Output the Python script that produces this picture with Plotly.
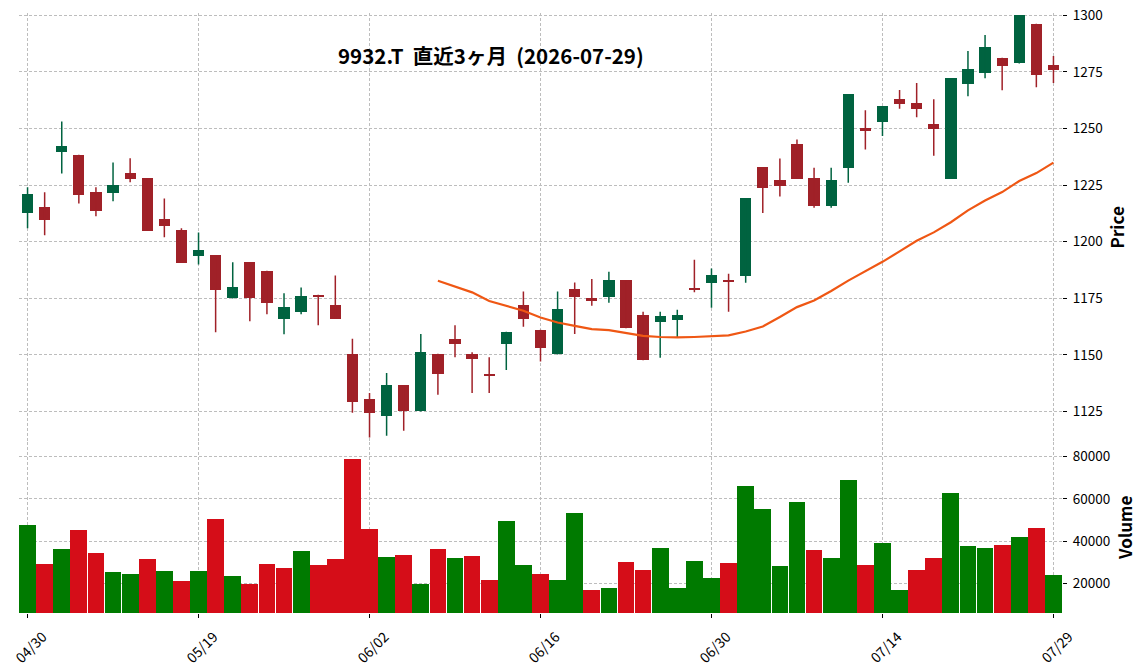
import plotly.graph_objects as go

# ---------------- data ----------------
dates = ["04/30", "05/01", "05/07", "05/08", "05/11", "05/12", "05/13", "05/14", "05/15", "05/18",
         "05/19", "05/20", "05/21", "05/22", "05/25", "05/26", "05/27", "05/28", "05/29", "06/01",
         "06/02", "06/03", "06/04", "06/05", "06/08", "06/09", "06/10", "06/11", "06/12", "06/15",
         "06/16", "06/17", "06/18", "06/19", "06/22", "06/23", "06/24", "06/25", "06/26", "06/29",
         "06/30", "07/01", "07/02", "07/03", "07/06", "07/07", "07/08", "07/09", "07/10", "07/13",
         "07/14", "07/15", "07/16", "07/17", "07/21", "07/22", "07/23", "07/24", "07/27", "07/28",
         "07/29"]

opens = [1212.8, 1215.3, 1239.7, 1238.2, 1221.9, 1221.6, 1230.3, 1228.1, 1210.0, 1205.1,
         1193.8, 1194.1, 1174.9, 1191.0, 1187.1, 1166.0, 1169.1, 1176.3, 1172.0, 1150.5,
         1130.3, 1123.0, 1136.6, 1125.0, 1150.5, 1157.1, 1150.5, 1141.3, 1155.0, 1172.0,
         1161.1, 1150.2, 1178.9, 1174.9, 1175.5, 1182.9, 1167.8, 1164.5, 1165.6, 1179.6,
         1181.7, 1183.0, 1184.8, 1232.9, 1227.1, 1243.1, 1228.0, 1215.8, 1232.6, 1250.1,
         1253.0, 1263.0, 1261.2, 1251.9, 1227.7, 1269.8, 1274.7, 1281.2, 1278.7, 1296.3,
         1278.1]
highs = [1224.0, 1221.8, 1253.1, 1238.4, 1224.0, 1235.0, 1236.8, 1228.1, 1219.1, 1205.9,
         1204.1, 1194.1, 1190.9, 1191.0, 1187.1, 1177.2, 1179.8, 1176.5, 1185.1, 1157.1,
         1133.2, 1142.0, 1136.6, 1159.2, 1150.5, 1163.1, 1151.2, 1149.0, 1160.2, 1178.0,
         1161.1, 1178.0, 1182.0, 1183.5, 1186.7, 1182.9, 1169.0, 1169.0, 1169.9, 1192.0,
         1188.1, 1185.8, 1219.2, 1232.9, 1236.7, 1245.1, 1232.7, 1232.7, 1265.2, 1258.1,
         1259.9, 1267.0, 1270.1, 1262.9, 1272.3, 1284.2, 1291.3, 1281.2, 1300.0, 1296.3,
         1282.0]
lows = [1205.9, 1202.8, 1230.1, 1216.9, 1211.2, 1217.8, 1226.2, 1204.9, 1201.9, 1190.7,
        1189.9, 1160.0, 1174.9, 1164.9, 1167.9, 1159.1, 1167.9, 1163.1, 1166.0, 1124.4,
        1113.5, 1114.3, 1116.5, 1125.0, 1132.4, 1149.0, 1133.2, 1133.2, 1143.3, 1162.4,
        1147.1, 1150.2, 1159.2, 1171.7, 1173.0, 1161.8, 1147.6, 1148.7, 1157.8, 1177.7,
        1170.8, 1169.0, 1181.9, 1212.7, 1219.9, 1227.7, 1215.0, 1215.0, 1226.0, 1240.7,
        1246.7, 1258.7, 1254.9, 1237.9, 1227.7, 1264.2, 1272.2, 1266.9, 1278.7, 1268.2,
        1270.1]
closes = [1221.0, 1209.7, 1242.2, 1220.7, 1213.7, 1224.9, 1227.8, 1204.9, 1207.1, 1190.7,
          1196.3, 1178.8, 1180.0, 1174.9, 1173.1, 1171.2, 1176.0, 1175.7, 1166.0, 1129.1,
          1124.3, 1136.6, 1125.0, 1151.4, 1141.7, 1155.0, 1148.0, 1140.7, 1160.2, 1166.0,
          1152.9, 1170.3, 1175.6, 1173.7, 1182.9, 1161.8, 1147.6, 1167.0, 1167.8, 1178.5,
          1185.1, 1182.4, 1219.2, 1223.7, 1224.6, 1227.7, 1215.8, 1227.1, 1265.2, 1249.0,
          1259.9, 1260.9, 1258.7, 1249.9, 1272.3, 1276.3, 1286.1, 1277.8, 1300.0, 1273.8,
          1275.9]
volumes = [47700, 29400, 36500, 45400, 34600, 25700, 24700, 31800, 26100, 21400,
           26100, 50600, 23800, 20000, 29400, 27500, 35500, 28900, 31800, 78800,
           45900, 32700, 33600, 20000, 36500, 32200, 33200, 21900, 49600, 28900,
           24700, 21900, 53400, 17200, 18100, 30400, 26600, 36900, 18100, 30800,
           22800, 29900, 66100, 55300, 28500, 58500, 36000, 32200, 68900, 28900,
           39300, 17200, 26600, 32200, 62800, 37900, 36900, 38300, 42100, 46300,
           24200]
ma_start = 24
ma25 = [1182.7, 1180.1, 1177.6, 1173.8, 1171.6, 1169.5, 1166.5, 1164.3, 1162.8, 1161.4,
        1160.9, 1159.7, 1158.4, 1157.9, 1157.7, 1157.9, 1158.4, 1158.6, 1160.3, 1162.5,
        1166.7, 1171.1, 1174.0, 1178.2, 1182.8, 1186.8, 1191.1, 1195.7, 1200.4, 1204.1,
        1208.6, 1213.8, 1218.2, 1221.9, 1226.8, 1230.3, 1234.9]
tick_idx = [0, 10, 20, 30, 40, 50, 60]
price_ticks = [1125, 1150, 1175, 1200, 1225, 1250, 1275, 1300]
volume_ticks = [20000, 40000, 60000, 80000]
title_text = "9932.T \u00a0直近3ヶ月 \u00a0(2026-07-29)"

# ---------------- styles ----------------
FONT = "Noto Sans CJK JP"
UP, DOWN = "#006340", "#a02128"
VUP, VDOWN = "#007a00", "#d50d18"
MA_COLOR = "#ef5714"
GRID = "#bdbdbd"

x = list(range(len(dates)))
up = [c >= o for o, c in zip(opens, closes)]
vol_up = [True] + [closes[i] >= closes[i - 1] for i in range(1, len(closes))]

fig = go.Figure()

# volume bars
fig.add_trace(go.Bar(
    x=x, y=volumes, width=0.98,
    marker=dict(color=[VUP if v else VDOWN for v in vol_up], line=dict(width=0)),
    xaxis="x", yaxis="y2", showlegend=False, hoverinfo="skip"))

# wicks
for flag, col in [(True, UP), (False, DOWN)]:
    xs, ys = [], []
    for i in x:
        if up[i] == flag:
            xs += [i, i, None]
            ys += [lows[i], highs[i], None]
    fig.add_trace(go.Scatter(x=xs, y=ys, mode="lines", line=dict(color=col, width=1.5),
                             xaxis="x2", yaxis="y", showlegend=False, hoverinfo="skip"))

# bodies
for flag, col in [(True, UP), (False, DOWN)]:
    idx = [i for i in x if up[i] == flag]
    base = [min(opens[i], closes[i]) for i in idx]
    hgt = [max(abs(closes[i] - opens[i]), 0.6) for i in idx]
    fig.add_trace(go.Bar(x=idx, y=hgt, base=base, width=0.66,
                         marker=dict(color=col, line=dict(width=0)),
                         xaxis="x2", yaxis="y", showlegend=False, hoverinfo="skip"))

# moving average
fig.add_trace(go.Scatter(x=x[ma_start:], y=ma25, mode="lines",
                         line=dict(color=MA_COLOR, width=2.2),
                         xaxis="x2", yaxis="y", showlegend=False, hoverinfo="skip"))

grid_common = dict(showgrid=True, gridcolor=GRID, griddash="3px,2px", gridwidth=0.8,
                   zeroline=False, showline=False, automargin=False)

annotations = []
for i in tick_idx:
    annotations.append(dict(x=i + 0.15, y=-0.056, xref="x", yref="paper", text=dates[i],
                            textangle=-45, showarrow=False, xanchor="center", yanchor="middle",
                            font=dict(family=FONT, size=14, color="#000000")))
annotations.append(dict(x=0.4525, y=0.93, xref="paper", yref="paper", text="<b>" + title_text + "</b>",
                        showarrow=False, xanchor="center", yanchor="middle",
                        font=dict(family=FONT, size=20.5, color="#000000")))

fig.update_layout(
    width=1144, height=671,
    margin=dict(l=19, r=82, t=13, b=58, pad=0, autoexpand=False),
    paper_bgcolor="white", plot_bgcolor="white",
    barmode="overlay", bargap=0,
    font=dict(family=FONT, size=13.5, color="#000000"),
    xaxis=dict(domain=[0, 1], anchor="y2", range=[-0.5, 60.5], tickmode="array",
               tickvals=tick_idx, ticktext=[dates[i] for i in tick_idx], showticklabels=False,
               ticks="outside", ticklen=4, tickwidth=1, tickcolor="#000000", **grid_common),
    xaxis2=dict(domain=[0, 1], anchor="y", matches="x", range=[-0.5, 60.5], tickmode="array",
                tickvals=tick_idx, showticklabels=False, ticks="", **grid_common),
    yaxis=dict(domain=[0.2857, 1], anchor="x2", side="right", range=[1111.7, 1301],
               tickmode="array", tickvals=price_ticks, ticks="outside", ticklen=4, tickwidth=1,
               tickcolor="#000000", ticklabelstandoff=3,
               title=dict(text="<b>Price</b>", font=dict(family=FONT, size=17), standoff=10),
               **grid_common),
    yaxis2=dict(domain=[0, 0.2857], anchor="x", side="right", range=[6200, 87000],
                tickmode="array", tickvals=volume_ticks, ticktext=[str(v) for v in volume_ticks],
                ticks="outside", ticklen=4, tickwidth=1, tickcolor="#000000", ticklabelstandoff=3,
                title=dict(text="<b>Volume</b>", font=dict(family=FONT, size=17), standoff=10),
                **grid_common),
    annotations=annotations,
)

fig.write_html("out.html")
